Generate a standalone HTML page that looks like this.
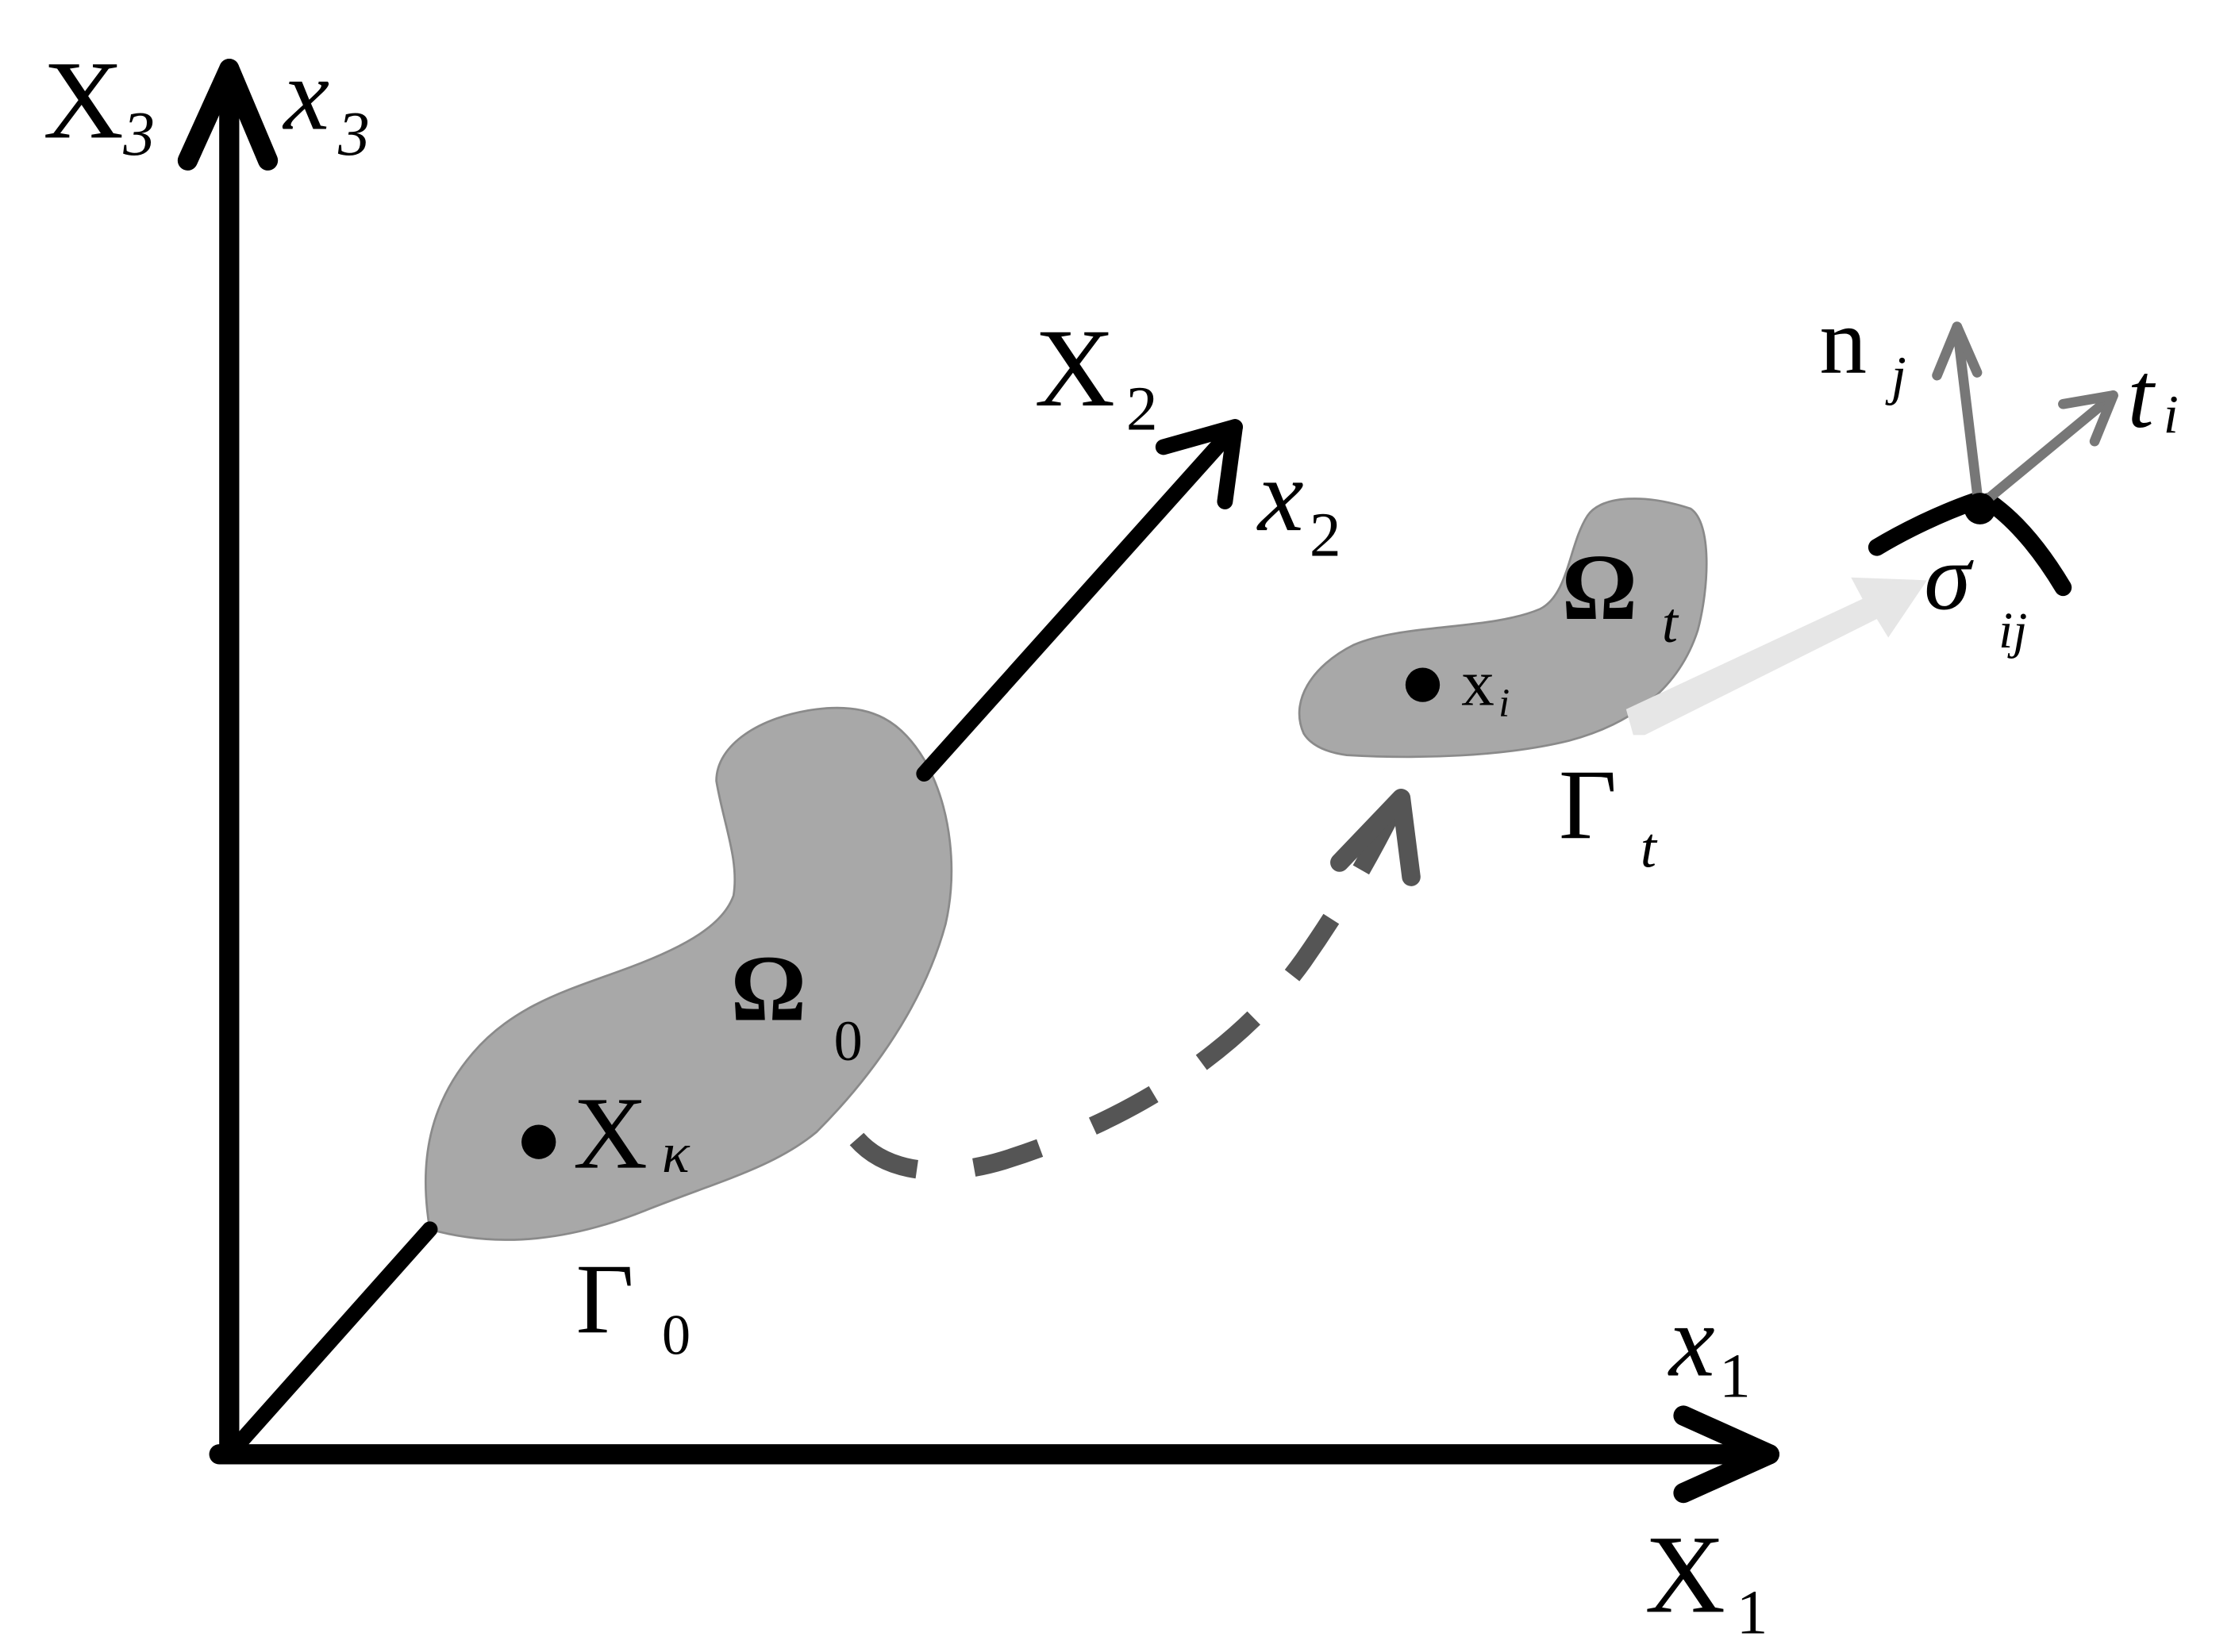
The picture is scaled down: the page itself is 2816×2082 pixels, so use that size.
<!DOCTYPE html>
<html><head><meta charset="utf-8"><style>
html,body{margin:0;padding:0;background:#fff;}
svg{display:block;}
text{font-family:"Liberation Serif",serif;fill:#000;}
</style></head><body>
<svg width="2816" height="2082" viewBox="0 0 1560 1153" preserveAspectRatio="none" xmlns="http://www.w3.org/2000/svg">
<rect width="1560" height="1153" fill="#fff"/>
<!-- blob omega0 -->
<path d="M300,858 C292,810 300,770 330,735 C360,700 400,690 440,675 C480,660 505,645 512,625 C516,600 505,575 500,545 C500,520 530,500 570,495 C610,490 630,505 645,530 C665,565 668,610 660,645 C645,700 610,750 570,790 C540,815 500,825 450,845 C400,865 350,872 300,858 Z" fill="#a8a8a8" stroke="#8a8a8a" stroke-width="1.5"/>
<!-- axes -->
<g stroke="#000" stroke-width="14" fill="none" stroke-linecap="round" stroke-linejoin="round">
<line x1="160" y1="1015" x2="160" y2="48"/>
<polyline points="131,112 160,48 187,112"/>
<line x1="153" y1="1015" x2="1235" y2="1015"/>
<polyline points="1175,988 1235,1015 1175,1042"/>
</g>
<g stroke="#000" stroke-width="11" fill="none" stroke-linecap="round" stroke-linejoin="round">
<line x1="160" y1="1015" x2="300" y2="858"/>
<line x1="645" y1="540" x2="862" y2="298"/>
<polyline points="812,312 862,298 855,350"/>
</g>
<!-- dashed arrow -->
<path d="M598,795 C620,820 660,822 700,810 C780,785 860,740 910,670 C945,620 965,580 975,560" fill="none" stroke="#555" stroke-width="13" stroke-dasharray="48,40"/>
<polyline points="935,602 978,557 985,612" fill="none" stroke="#555" stroke-width="13" stroke-linecap="round" stroke-linejoin="round"/>
<!-- blob omega t -->
<path d="M910,512 C900,490 915,465 945,450 C980,435 1040,440 1075,425 C1095,415 1095,380 1108,360 C1118,345 1150,345 1180,355 C1195,365 1193,410 1185,440 C1172,480 1140,505 1095,517 C1050,528 990,530 940,527 C925,525 915,520 910,512 Z" fill="#a8a8a8" stroke="#8a8a8a" stroke-width="1.5"/>
<!-- light arrow -->
<polygon points="1140,513 1135,495 1300,418 1292,403 1345,405 1318,445 1310,432 1148,513" fill="#e6e6e6"/>
<!-- surface curves -->
<g stroke="#000" stroke-width="12" fill="none" stroke-linecap="round">
<path d="M1310,382 C1330,370 1355,358 1378,350"/>
<path d="M1388,350 C1410,365 1428,390 1440,410"/>
</g>
<!-- n and t arrows -->
<g stroke="#777" stroke-width="7" fill="none" stroke-linecap="round" stroke-linejoin="round">
<line x1="1381" y1="352" x2="1366" y2="228"/>
<polyline points="1352,262 1366,228 1380,260"/>
<line x1="1383" y1="352" x2="1475" y2="276"/>
<polyline points="1440,282 1475,276 1462,308"/>
</g>
<!-- dots -->
<circle cx="376" cy="797" r="12" fill="#000"/>
<circle cx="993" cy="478" r="12" fill="#000"/>
<circle cx="1382" cy="355" r="11" fill="#000"/>
<!-- labels -->
<text x="30" y="96" font-size="78">X</text><text x="86" y="108" font-size="44" font-style="italic">3</text>
<text x="198" y="90" font-size="72" font-style="italic">x</text><text x="236" y="108" font-size="44" font-style="italic">3</text>
<text x="722" y="283" font-size="78">X</text><text x="786" y="300" font-size="44">2</text>
<text x="878" y="370" font-size="72" font-style="italic">x</text><text x="914" y="388" font-size="44">2</text>
<text x="1165" y="960" font-size="72" font-style="italic">x</text><text x="1200" y="975" font-size="44">1</text>
<text x="1148" y="1125" font-size="78">X</text><text x="1212" y="1140" font-size="44">1</text>
<text x="400" y="815" font-size="72">X</text><text x="462" y="818" font-size="40" font-style="italic">κ</text>
<text x="510" y="712" font-size="66" font-weight="bold">Ω</text><text x="582" y="740" font-size="40">0</text>
<text x="402" y="930" font-size="70">Γ</text><text x="462" y="945" font-size="40">0</text>
<text x="1020" y="492" font-size="46">x</text><text x="1046" y="500" font-size="28" font-style="italic">i</text>
<text x="1090" y="432" font-size="66" font-weight="bold">Ω</text><text x="1160" y="448" font-size="40" font-style="italic">t</text>
<text x="1088" y="585" font-size="70">Γ</text><text x="1145" y="605" font-size="40" font-style="italic">t</text>
<text x="1270" y="260" font-size="66">n</text><text x="1320" y="275" font-size="38" font-style="italic">j</text>
<text x="1485" y="298" font-size="66" font-style="italic">t</text><text x="1510" y="302" font-size="38" font-style="italic">i</text>
<text x="1343" y="425" font-size="66" font-style="italic">σ</text><text x="1395" y="452" font-size="36" font-style="italic">ij</text>
</svg>
</body></html>
